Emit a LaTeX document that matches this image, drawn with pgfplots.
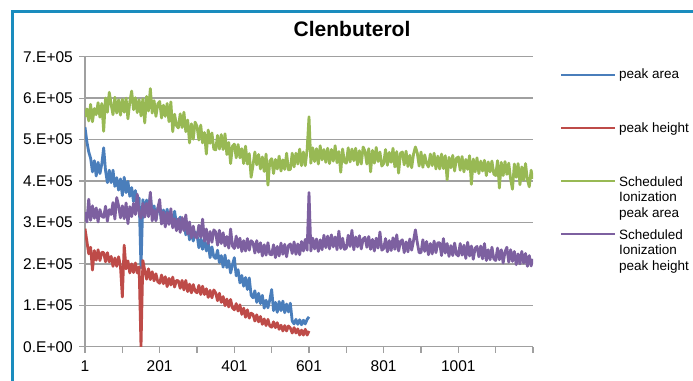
\documentclass[border=0pt]{standalone}
\usepackage{pgfplots}
\pgfplotsset{compat=1.18}
\usepackage{pgfplotstable}
\usepackage{fontspec}
\setmainfont{Liberation Sans}
\definecolor{sblue}{HTML}{4A7EBB}
\definecolor{sred}{HTML}{BE4B48}
\definecolor{sgreen}{HTML}{98B954}
\definecolor{spurple}{HTML}{7D60A0}
\definecolor{gridgray}{HTML}{A0A0A0}
\definecolor{frameblue}{HTML}{1A8CBE}
% values in thousands
\pgfplotstableread{
x b r
1 530 285
6 495 255
11 470 224
16 455 240
21 422 185
26 449 232
31 412 209
36 445 234
41 418 208
46 441 228
51 480 227
56 425 205
61 396 227
66 426 205
71 396 218
76 426 194
81 387 214
86 408 194
91 378 217
96 405 194
101 365 120
106 409 245
111 372 188
116 399 207
121 363 178
126 384 200
131 350 179
136 377 202
141 346 178
146 359 193
151 190 0
156 355 208
161 323 184
166 354 163
171 315 188
176 368 162
181 318 181
186 340 159
191 306 176
196 335 157
201 337 153
206 302 173
211 330 152
216 307 169
221 332 145
226 297 165
231 319 149
236 296 168
241 327 144
246 296 160
251 290 159
256 313 141
261 285 160
266 308 137
271 270 160
276 293 133
281 258 151
286 280 130
291 255 150
296 277 134
301 270 130
306 239 148
311 260 126
316 235 146
321 262 126
326 231 140
331 251 119
336 215 136
341 241 118
346 217 137
351 213 130
356 233 111
361 203 129
366 220 107
371 192 121
376 221 99
381 191 115
386 208 96
391 178 114
396 198 94
401 215 89
406 171 104
411 186 86
416 154 101
421 172 78
426 146 93
431 167 71
436 138 89
441 166 69
446 124 81
451 118 78
456 135 62
461 107 77
466 129 60
471 104 73
476 124 54
481 93 67
486 112 51
491 94 66
496 113 50
501 138 47
506 87 60
511 107 46
516 83 58
521 109 42
526 87 52
531 110 38
536 82 51
541 103 38
546 84 50
551 105 45
556 62 33
561 55 46
566 66 33
571 54 43
576 65 28
581 53 40
586 64 28
591 55 42
596 66 28
601 72 38
}\shortdata
\pgfplotstableread{
x g p
1 555 325
6 574 301
11 545 356
16 585 305
21 543 340
26 575 310
31 560 335
36 589 301
41 554 331
46 587 315
51 520 312
56 600 339
61 566 303
66 614 331
71 585 319
76 560 348
81 602 308
86 564 360
91 596 340
96 559 311
101 597 340
106 566 309
111 600 347
116 550 297
121 591 338
126 617 314
131 572 346
136 601 319
141 565 368
146 596 321
151 557 310
156 598 346
161 540 313
166 604 346
171 569 314
176 623 373
181 564 304
186 594 330
191 556 304
196 586 334
201 592 355
206 552 296
211 583 325
216 556 289
221 587 324
226 543 295
231 591 333
236 519 287
241 561 309
246 534 280
251 528 309
256 562 276
261 529 312
266 566 280
271 519 318
276 547 272
281 492 301
286 538 263
291 501 291
296 542 265
301 532 263
306 499 293
311 535 264
316 492 308
321 517 255
326 465 284
331 523 249
336 491 278
341 516 252
346 477 282
351 475 277
356 510 245
361 477 281
366 512 249
371 476 275
376 514 243
381 464 266
386 493 238
391 442 284
396 484 243
401 489 237
406 456 267
411 488 239
416 456 262
421 478 230
426 442 256
431 484 231
436 441 261
441 466 233
446 409 256
451 438 251
456 470 226
461 439 256
466 464 228
471 429 251
476 458 219
481 423 246
486 465 221
491 390 251
496 448 223
501 454 222
506 418 246
511 452 215
516 429 242
521 460 219
526 424 250
531 451 223
536 428 247
541 467 217
546 427 244
551 428 248
556 467 225
561 434 253
566 467 223
571 441 248
576 477 222
581 437 254
586 470 231
591 437 259
596 476 233
601 555 372
606 443 231
611 480 262
616 447 236
621 478 260
626 441 230
631 485 258
636 451 234
641 476 269
646 445 239
651 479 267
656 442 236
661 476 270
666 448 241
671 485 265
676 444 234
681 471 279
686 421 237
691 477 262
696 446 235
701 443 238
706 480 269
711 446 242
716 477 281
721 449 234
726 479 265
731 439 241
736 473 268
741 441 236
746 482 260
751 472 264
756 441 240
761 478 266
766 422 235
771 474 259
776 443 231
781 481 262
786 447 238
791 470 277
796 436 233
801 442 237
806 476 261
811 438 229
816 469 256
821 445 232
826 479 263
831 434 235
836 471 270
841 419 231
846 467 254
851 470 258
856 439 227
861 472 253
866 435 229
871 462 260
876 432 233
881 465 256
886 482 282
891 468 252
896 436 227
901 470 227
906 433 258
911 463 230
916 442 254
921 434 222
926 465 249
931 437 224
936 467 255
941 429 227
946 460 251
951 429 251
956 465 220
961 430 261
966 461 226
971 403 249
976 457 218
981 432 244
986 462 220
991 424 250
996 455 223
1001 458 219
1006 426 249
1011 459 221
1016 422 245
1021 452 213
1026 428 252
1031 461 219
1036 392 243
1041 453 211
1046 422 238
1051 456 242
1056 418 217
1061 448 243
1066 424 212
1071 450 249
1076 413 208
1081 446 234
1086 422 210
1091 448 240
1096 417 212
1101 413 208
1106 449 238
1111 383 210
1116 445 234
1121 413 202
1126 447 229
1131 416 240
1136 443 204
1141 405 234
1146 380 206
1151 441 230
1156 409 198
1161 442 224
1166 391 200
1171 434 230
1176 402 202
1181 442 225
1186 403 194
1191 386 220
1196 426 195
1200 405 212
}\longdata
\begin{document}
\begin{tikzpicture}
\path[use as bounding box] (0pt,0pt) rectangle (693pt,380pt);
\fill[white] (0pt,0pt) rectangle (693pt,380pt);
\draw[frameblue, line width=3pt] (12pt,-10pt) -- (12pt,368pt) -- (710pt,368pt);
\begin{axis}[
  at={(85pt,33.3pt)}, anchor=south west,
  scale only axis, width=448pt, height=290pt,
  xmin=1, xmax=1201, ymin=0, ymax=700,
  axis x line*=bottom, axis y line*=left,
  axis line style={gridgray, line width=1.5pt, -},
  xtick={1,101,...,1201},
  xticklabels={1,,201,,401,,601,,801,,1001,},
  ytick={0,100,...,700},
  yticklabels={0.E+00,1.E+05,2.E+05,3.E+05,4.E+05,5.E+05,6.E+05,7.E+05},
  tick align=outside,
  major tick length=6pt,
  tick style={gridgray, line width=1.2pt},
  ymajorgrids,
  grid style={gridgray, line width=1.5pt},
  ticklabel style={font=\fontsize{15.5}{18}\selectfont, text=black},
  yticklabel style={inner sep=0pt, anchor=east, xshift=-6pt},
  xticklabel style={inner sep=0pt, anchor=north, yshift=-8pt},
  every axis plot/.append style={line width=2.8pt, line join=round, no markers},
]
\addplot[sblue] table[x=x, y=b] {\shortdata};
\addplot[sred] table[x=x, y=r] {\shortdata};
\addplot[sgreen] table[x=x, y=g] {\longdata};
\addplot[spurple] table[x=x, y=p] {\longdata};
\end{axis}
\node[anchor=base, font=\fontsize{21}{24}\selectfont\bfseries] at (352pt,343pt) {Clenbuterol};
\begin{scope}[every node/.style={anchor=base west, inner sep=0pt, font=\fontsize{13.5}{15.5}\selectfont}]
\draw[sblue, line width=2.6pt] (561pt,305pt) -- (615pt,305pt);
\node at (619pt,301pt) {peak area};
\draw[sred, line width=2.6pt] (561pt,252pt) -- (615pt,252pt);
\node at (619pt,247.7pt) {peak height};
\draw[sgreen, line width=2.6pt] (561pt,199pt) -- (615pt,199pt);
\node at (619pt,193.5pt) {\begin{tabular}[t]{@{}l@{}}Scheduled\\Ionization\\peak area\end{tabular}};
\draw[spurple, line width=2.6pt] (561pt,146pt) -- (615pt,146pt);
\node at (619pt,140.5pt) {\begin{tabular}[t]{@{}l@{}}Scheduled\\Ionization\\peak height\end{tabular}};
\end{scope}
\end{tikzpicture}
\end{document}
